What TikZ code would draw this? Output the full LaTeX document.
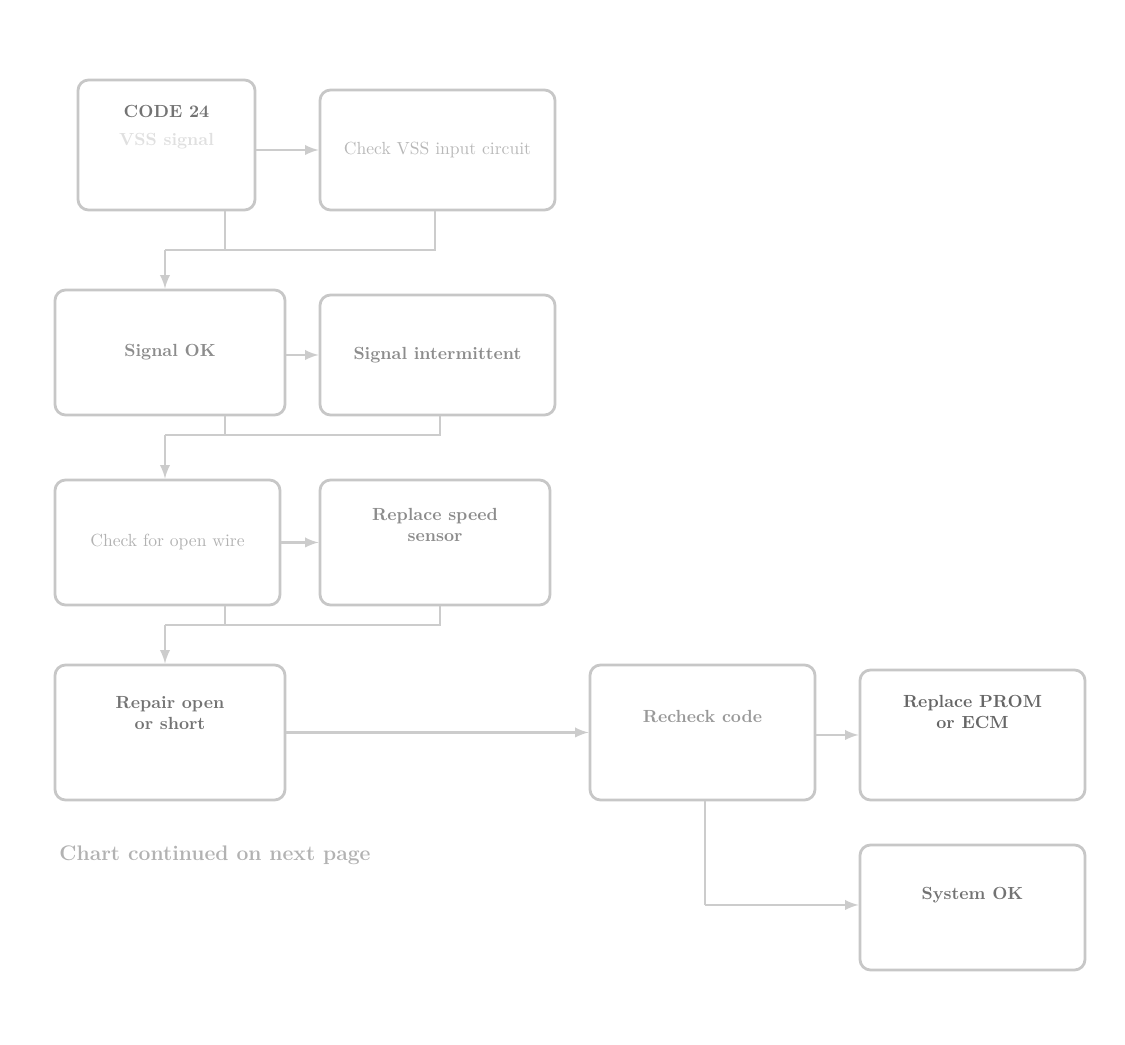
\documentclass[tikz,border=0pt]{standalone}
\usepackage{tikz}
\begin{document}
\begin{tikzpicture}[scale=0.2]
\tikzstyle{every node}+=[inner sep=0pt]
\tikzstyle{box}=[draw=black!22, line width=1.6pt, rounded corners=6pt, align=center, text=black!45, font=\bfseries]
\tikzstyle{wire}=[draw=black!20, line width=1.6pt]
\useasboundingbox (0,0) rectangle (112.5,-104.5);
\node [box, minimum width=3.54cm, minimum height=2.6cm] (A) at (16.65,-14.5) {\textcolor{black!55}{CODE 24}\\[4pt] \textcolor{black!12}{VSS signal}\\[10pt]~};
\node [box, minimum width=4.7cm, minimum height=2.4cm] (B) at (43.75,-15) {\textcolor{black!28}{\mdseries Check VSS input circuit}};
\node [box, minimum width=4.6cm, minimum height=2.5cm] (C) at (17,-35.25) {Signal OK};
\node [box, minimum width=4.7cm, minimum height=2.4cm] (D) at (43.75,-35.5) {Signal intermittent};
\node [box, minimum width=4.5cm, minimum height=2.5cm] (E) at (16.75,-54.25) {\textcolor{black!30}{\mdseries Check for open wire}};
\node [box, minimum width=4.6cm, minimum height=2.5cm] (F) at (43.5,-54.25) {Replace speed\\ sensor\\[8pt]~};
\node [box, minimum width=4.6cm, minimum height=2.7cm] (G) at (17,-73.25) {\textcolor{black!55}{Repair open}\\ \textcolor{black!55}{or short}\\[10pt]~};
\node [box, minimum width=4.5cm, minimum height=2.7cm] (H) at (70.25,-73.25) {\textcolor{black!40}{Recheck code}\\[6pt]~};
\node [box, minimum width=4.5cm, minimum height=2.6cm] (I) at (97.25,-73.5) {\textcolor{black!60}{Replace PROM}\\ \textcolor{black!60}{or ECM}\\[14pt]~};
\node [box, minimum width=4.5cm, minimum height=2.5cm] (J) at (97.25,-90.75) {\textcolor{black!55}{System OK}\\[4pt]~};
\node [text=black!30, font=\large\bfseries] (note) at (21.5,-85.5) {Chart continued on next page};
\coordinate (a1) at (22.5,-25);
\coordinate (b1) at (43.5,-25);
\coordinate (c0) at (16.5,-25);
\coordinate (c1) at (22.5,-43.5);
\coordinate (d1) at (44,-43.5);
\coordinate (e0) at (16.5,-43.5);
\coordinate (e1) at (22.5,-62.5);
\coordinate (f1) at (44,-62.5);
\coordinate (g0) at (16.5,-62.5);
\coordinate (h1) at (70.5,-90.5);
\draw [wire, -latex] (A.east |- B.west) -- (B.west);
\draw [wire] (A.south -| a1) -- (a1);
\draw [wire] (B.south -| b1) -- (b1) -- (c0);
\draw [wire, -latex] (c0) -- (C.north -| c0);
\draw [wire, -latex] (C.east |- D.west) -- (D.west);
\draw [wire] (C.south -| c1) -- (c1);
\draw [wire] (D.south -| d1) -- (d1) -- (e0);
\draw [wire, -latex] (e0) -- (E.north -| e0);
\draw [wire, -latex] (E.east) -- (F.west);
\draw [wire] (E.south -| e1) -- (e1);
\draw [wire] (F.south -| f1) -- (f1) -- (g0);
\draw [wire, -latex] (g0) -- (G.north -| g0);
\draw [wire, -latex] (G.east) -- (H.west);
\draw [wire, -latex] (H.east |- I.west) -- (I.west);
\draw [wire] (H.south -| h1) -- (h1);
\draw [wire, -latex] (h1) -- (J.west |- h1);
\end{tikzpicture}
\end{document}
